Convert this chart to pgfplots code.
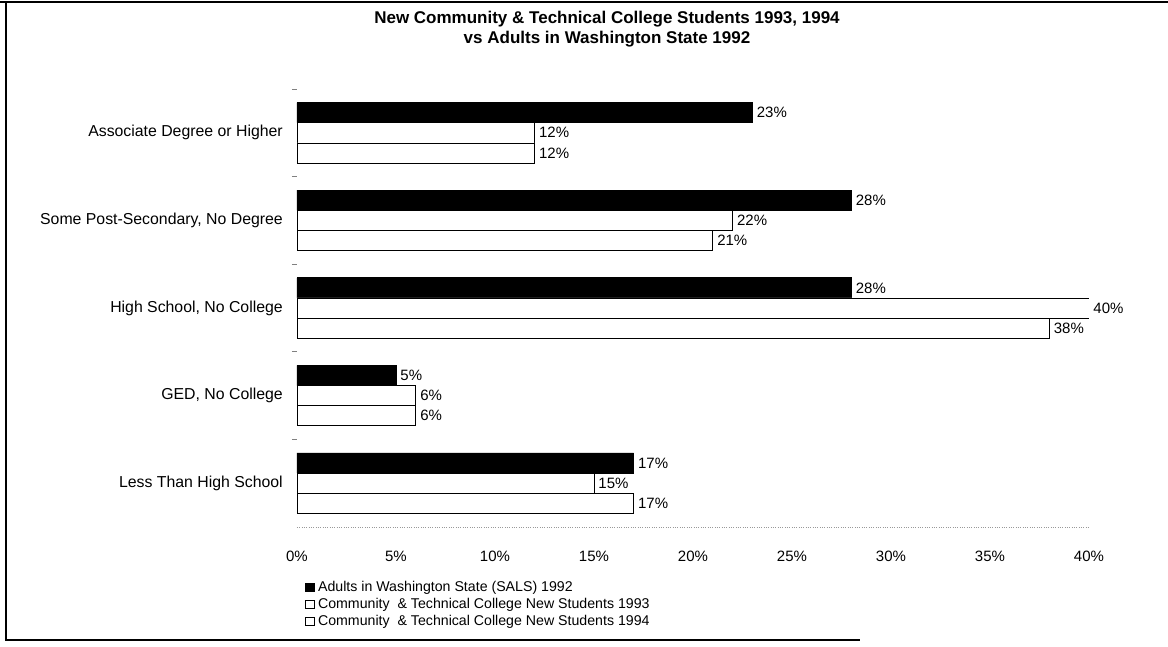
\documentclass[border=0pt]{standalone}
\usepackage{pgfplots}
\pgfplotsset{compat=1.18}
\usepackage{fontspec}
\setmainfont{Liberation Sans}

% 1 px of the reference = 0.6pt
\def\u{0.6pt}

\begin{document}
\begin{tikzpicture}[x=\u,y=\u]
\useasboundingbox (0,0) rectangle (1168,647);
% scanned page frame
\draw[line width=1.2pt] (0,645) -- (1168,645);
\draw[line width=1pt] (6,645) -- (6,7) -- (860,7);

\node[align=center,font=\fontsize{10.2}{12}\selectfont\bfseries] at (607,618)
  {New Community \& Technical College Students 1993, 1994\\vs Adults in Washington State 1992};

\begin{axis}[
    at={(297*\u,120*\u)}, anchor=south west,
    scale only axis,
    width=475.2pt, height=262.8pt,
    xbar, bar width=0.23,
    xmin=0, xmax=40,
    ymin=-0.5, ymax=4.5,
    /pgf/number format/assume math mode=true,
    xtick={0,5,...,40},
    xticklabel={\pgfmathprintnumber{\tick}\%},
    ytick={0,1,2,3,4},
    yticklabels={Less Than High School, {GED, No College}, {High School, No College}, {Some Post-Secondary, No Degree}, Associate Degree or Higher},
    extra y ticks={0.5,1.5,2.5,3.5,4.5},
    extra y tick labels={},
    extra y tick style={major tick length=3pt, tick style={gray, line width=0.6pt}},
    major tick length=0pt,
    axis lines*=left, separate axis lines,
    x axis line style={-, densely dotted, gray!80},
    y axis line style={draw=none},
    tick label style={font=\fontsize{9}{10}\selectfont},
    yticklabel style={font=\fontsize{9.5}{11}\selectfont, xshift=-5pt},
    xticklabel style={yshift=-10pt, text height=7pt, text depth=1pt},
    nodes near coords={\pgfmathprintnumber{\pgfplotspointmeta}\%},
    nodes near coords style={font=\fontsize{9}{10}\selectfont, anchor=west, inner sep=2.5pt},
    legend style={at={(0.01,-0.115)}, anchor=north west, draw=none, fill=none,
        font=\fontsize{8.5}{9}\selectfont, row sep=-1.5pt, inner sep=0pt},
    legend cell align=left,
    legend image code/.code={\draw[#1, line width=0.5pt] (0pt,-2.6pt) rectangle (5.2pt,2.6pt);},
]
\addplot[fill=black, draw=black, bar shift=0.23] coordinates {(17,0) (5,1) (28,2) (28,3) (23,4)};
\addlegendentry{Adults in Washington State (SALS) 1992}
\addplot[fill=white, draw=black, bar shift=0] coordinates {(15,0) (6,1) (40,2) (22,3) (12,4)};
\addlegendentry{Community \ \& Technical College New Students 1993}
\addplot[fill=white, draw=black, bar shift=-0.23] coordinates {(17,0) (6,1) (38,2) (21,3) (12,4)};
\addlegendentry{Community \ \& Technical College New Students 1994}
\end{axis}
\end{tikzpicture}
\end{document}
